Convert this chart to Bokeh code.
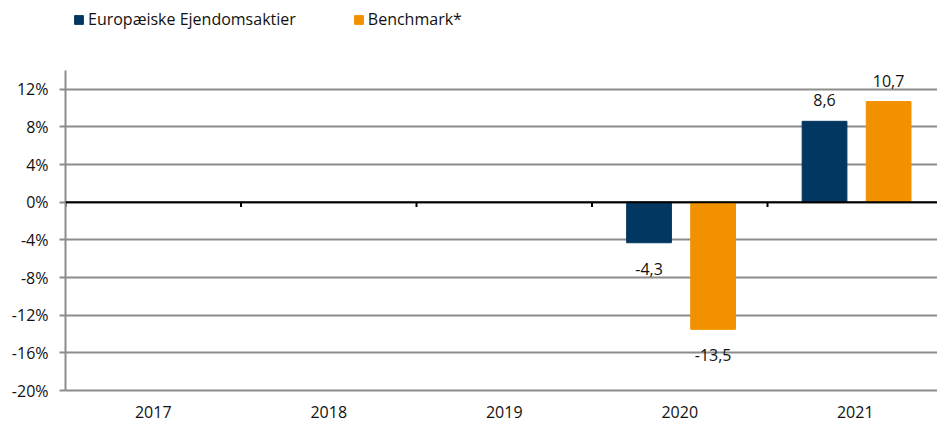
from bokeh.plotting import figure
from bokeh.models import ColumnDataSource, Legend, LegendItem, FixedTicker, Span
from bokeh.embed import file_html
from bokeh.resources import INLINE
from bokeh.core.properties import value
import math

years = ["2017", "2018", "2019", "2020", "2021"]
europa = [float("nan"), float("nan"), float("nan"), -4.3, 8.6]
benchmark = [float("nan"), float("nan"), float("nan"), -13.5, 10.7]
y_ticks = [-20, -16, -12, -8, -4, 0, 4, 8, 12]
y_min, y_max = -20, 14
series_names = ["Europæiske Ejendomsaktier", "Benchmark*"]

BLUE = "#023761"
ORANGE = "#F29100"
FONT = "Open Sans"
GRID = "#8c8c8c"
TXT = "#111111"

n = len(years)
W, H = 937, 421
left, axis_top, axis_h = 65, 70, 320
frame_w = W - left
cat_px = 175.5
px_per_unit = axis_h / (y_max - y_min)
frame_top_val = y_max + axis_top / px_per_unit
p = figure(width=W, height=H, output_backend="svg", toolbar_location=None,
           x_range=(0, frame_w / cat_px), y_range=(y_min, frame_top_val),
           min_border_left=left, min_border_right=0, min_border_top=0,
           min_border_bottom=H - axis_top - axis_h)
p.outline_line_color = None
p.background_fill_color = "white"

centers = [i + 0.5 for i in range(n)]
src_a = ColumnDataSource(dict(x=[c - 0.175 for c in centers], top=europa))
src_b = ColumnDataSource(dict(x=[c + 0.19 for c in centers], top=benchmark))
ra = p.vbar(x="x", top="top", bottom=0, width=0.255, source=src_a, fill_color=BLUE, line_color=BLUE)
rb = p.vbar(x="x", top="top", bottom=0, width=0.255, source=src_b, fill_color=ORANGE, line_color=ORANGE)

# zero line
p.add_layout(Span(location=0, dimension="width", line_color="black", line_width=2))
# category boundary ticks on zero line
bx = list(range(n + 1))
p.segment(x0=bx, x1=bx, y0=[0] * len(bx), y1=[-0.5] * len(bx), line_color="black", line_width=2)

# labels
lx, ly, lt, loff = [], [], [], []
for src in (src_a, src_b):
    for x, v in zip(src.data["x"], src.data["top"]):
        if not math.isnan(v):
            lx.append(x)
            ly.append(v)
            lt.append(f"{v:.1f}".replace(".", ","))
            loff.append(-21 if v > 0 else 26)
lsrc = ColumnDataSource(dict(x=lx, y=ly, t=lt, off=loff))
p.text(x="x", y="y", text="t", y_offset="off", source=lsrc, text_align="center",
       text_baseline="middle", text_font=value(FONT), text_font_size="16px", text_color=TXT)

# axes
p.yaxis.ticker = FixedTicker(ticks=y_ticks)
p.yaxis.bounds = (y_min, y_max)
p.yaxis.major_label_overrides = {t: f"{t}%" for t in y_ticks}
p.yaxis.axis_line_color = GRID
p.yaxis.axis_line_width = 2
p.yaxis.major_tick_line_color = GRID
p.yaxis.major_tick_line_width = 2
p.yaxis.major_tick_out = 6
p.yaxis.major_tick_in = 0
p.yaxis.minor_tick_line_color = None
p.yaxis.major_label_standoff = 11
p.yaxis.major_label_text_font = FONT
p.yaxis.major_label_text_font_size = "16px"
p.yaxis.major_label_text_color = TXT

p.xaxis.ticker = FixedTicker(ticks=centers)
p.xaxis.major_label_overrides = {c: y for c, y in zip(centers, years)}
p.xaxis.axis_line_color = GRID
p.xaxis.axis_line_width = 2
p.xaxis.major_tick_line_color = None
p.xaxis.minor_tick_line_color = None
p.xaxis.major_label_standoff = 9
p.xaxis.major_label_text_font = FONT
p.xaxis.major_label_text_font_size = "16px"
p.xaxis.major_label_text_color = TXT

p.xgrid.grid_line_color = None
p.ygrid.ticker = FixedTicker(ticks=y_ticks)
p.ygrid.grid_line_color = GRID
p.ygrid.grid_line_width = 2

legend = Legend(items=[LegendItem(label=series_names[0], renderers=[ra]),
                       LegendItem(label=series_names[1], renderers=[rb])],
                orientation="horizontal", location=(8, 360),
                padding=0, margin=0, spacing=57, border_line_color=None,
                background_fill_alpha=0, glyph_width=11, glyph_height=11,
                label_height=11, label_standoff=4,
                label_text_font=FONT, label_text_font_size="16px", label_text_color=TXT)
p.add_layout(legend, "center")

open("out.html", "w").write(file_html(p, INLINE))
